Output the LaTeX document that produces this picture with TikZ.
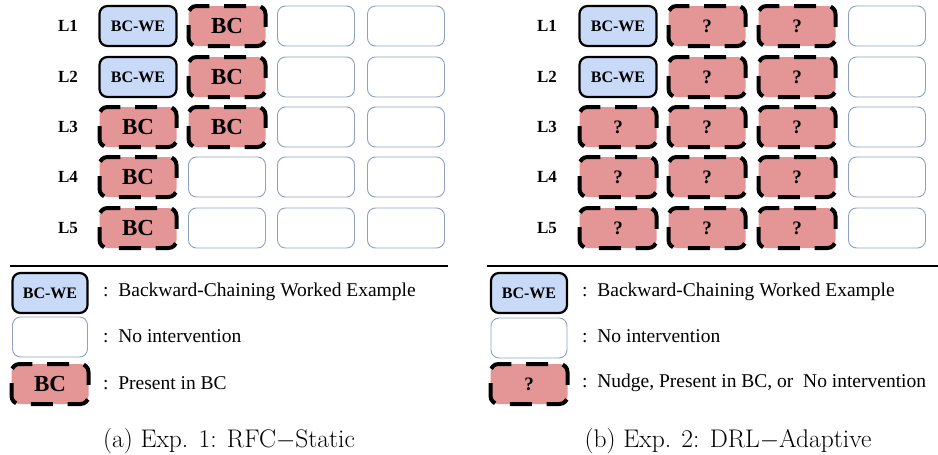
\documentclass[tikz,border=0pt]{standalone}
\usepackage{fontspec}
\newfontfamily\gar{Liberation Serif}
\definecolor{wefill}{HTML}{C9DAF8}
\definecolor{bcfill}{HTML}{E49696}
\definecolor{noline}{HTML}{8EA1C2}
\newcommand\dashborder[1]{\draw[bcline] (#1.west) -- (#1.north west) -- (#1.north east) -- (#1.south east) -- (#1.south west) -- cycle;}
\begin{document}
\begin{tikzpicture}[x=1pt,y=-1pt,
  cell/.style={minimum width=77pt, minimum height=40pt, rounded corners=8pt, inner sep=0pt, outer sep=0pt},
  we/.style={cell, draw=black, line width=2.2pt, fill=wefill, font=\gar\bfseries\fontsize{16}{16}\selectfont},
  bc/.style={cell, fill=bcfill, font=\gar\bfseries\fontsize{23}{23}\selectfont},
  qm/.style={cell, fill=bcfill, font=\gar\bfseries\fontsize{19}{19}\selectfont},
  nobox/.style={cell, draw=noline, line width=0.9pt, fill=white},
  bcline/.style={line width=4pt, rounded corners=8pt, dash pattern=on 22pt off 14.7pt, dash phase=29.35pt},
  lab/.style={font=\gar\bfseries\fontsize{17}{17}\selectfont},
  legtxt/.style={anchor=west, inner sep=0pt, font=\gar\fontsize{19.5}{19.5}\selectfont},
  captext/.style={font=\fontsize{25.5}{25.5}\selectfont}]
\useasboundingbox (0,0) rectangle (938,455);
% ---------- left panel ----------
\node[lab] (la1) at (68,26) {L1};
\node[lab] (la2) at (68,77) {L2};
\node[lab] (la3) at (68,127) {L3};
\node[lab] (la4) at (68,177) {L4};
\node[lab] (la5) at (68,228) {L5};
% row 1
\node[we] (a11) at (138,26) {BC-WE};
\node[bc] (a12) at (227,26) {BC}; \dashborder{a12}
\node[nobox] (a13) at (316,26) {};
\node[nobox] (a14) at (406,26) {};
% row 2
\node[we] (a21) at (138,77) {BC-WE};
\node[bc] (a22) at (227,77) {BC}; \dashborder{a22}
\node[nobox] (a23) at (316,77) {};
\node[nobox] (a24) at (406,77) {};
% row 3
\node[bc] (a31) at (138,127) {BC}; \dashborder{a31}
\node[bc] (a32) at (227,127) {BC}; \dashborder{a32}
\node[nobox] (a33) at (316,127) {};
\node[nobox] (a34) at (406,127) {};
% row 4
\node[bc] (a41) at (138,177) {BC}; \dashborder{a41}
\node[nobox] (a42) at (227,177) {};
\node[nobox] (a43) at (316,177) {};
\node[nobox] (a44) at (406,177) {};
% row 5
\node[bc] (a51) at (138,228) {BC}; \dashborder{a51}
\node[nobox] (a52) at (227,228) {};
\node[nobox] (a53) at (316,228) {};
\node[nobox] (a54) at (406,228) {};
% separator
\coordinate (sl1) at (10,266);
\coordinate (sl2) at (448,266);
\draw[line width=1.8pt] (sl1) -- (sl2);
% legend
\node[we, minimum width=75pt] (lwe) at (50,293) {BC-WE};
\node[nobox, minimum width=75pt] (lno) at (50,337) {};
\node[bc] (lbc) at (50,384) {BC}; \dashborder{lbc}
\node[legtxt] (t1) at (103,292) {:\ \ Backward-Chaining Worked Example};
\node[legtxt] (t2) at (103,336) {:\ \ No intervention};
\node[legtxt] (t3) at (103,383) {:\ \ Present in BC};
\node[captext] (capa) at (229,441) {(a) Exp. 1: RFC$-$Static};
% ---------- right panel ----------
\node[lab] (lb1) at (547,26) {L1};
\node[lab] (lb2) at (547,77) {L2};
\node[lab] (lb3) at (547,127) {L3};
\node[lab] (lb4) at (547,177) {L4};
\node[lab] (lb5) at (547,228) {L5};
% row 1
\node[we] (b11) at (618,26) {BC-WE};
\node[qm] (b12) at (707,26) {?}; \dashborder{b12}
\node[qm] (b13) at (797,26) {?}; \dashborder{b13}
\node[nobox] (b14) at (887,26) {};
% row 2
\node[we] (b21) at (618,77) {BC-WE};
\node[qm] (b22) at (707,77) {?}; \dashborder{b22}
\node[qm] (b23) at (797,77) {?}; \dashborder{b23}
\node[nobox] (b24) at (887,77) {};
% rows 3-5
\foreach \r/\y in {3/127,4/177,5/228}{
  \node[qm] (b\r1) at (618,\y) {?}; \dashborder{b\r1}
  \node[qm] (b\r2) at (707,\y) {?}; \dashborder{b\r2}
  \node[qm] (b\r3) at (797,\y) {?}; \dashborder{b\r3}
  \node[nobox] (b\r4) at (887,\y) {};
}
% separator
\coordinate (sr1) at (487,266);
\coordinate (sr2) at (938,266);
\draw[line width=1.8pt] (sr1) -- (sr2);
% legend
\node[we, minimum width=76pt] (rwe) at (529,293) {BC-WE};
\node[nobox, minimum width=76pt] (rno) at (529,338) {};
\node[qm] (rbc) at (529,384) {?}; \dashborder{rbc}
\node[legtxt] (u1) at (582,292) {:\ \ Backward-Chaining Worked Example};
\node[legtxt] (u2) at (582,336) {:\ \ No intervention};
\node[legtxt] (u3) at (582,383) {:\ \ Nudge, Present in BC, or\ \ No intervention};
\node[captext] (capb) at (728,441) {(b) Exp. 2: DRL$-$Adaptive};
\end{tikzpicture}
\end{document}
